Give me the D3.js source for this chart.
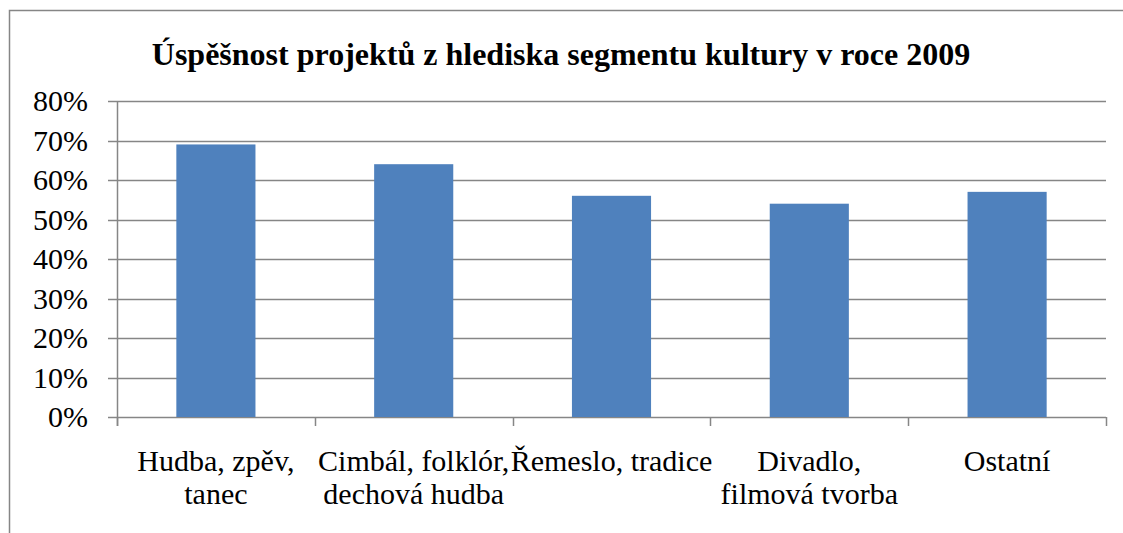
<!DOCTYPE html>
<html>
<head>
<meta charset="utf-8">
<script src="https://cdn.jsdelivr.net/npm/d3@7"></script>
<style>
  html, body { margin: 0; padding: 0; background: #fff; }
  svg { display: block; }
</style>
</head>
<body>
<svg id="chart" width="1123" height="533"></svg>
<script>
// ── DATA ─────────────────────────────────────────────────────────────────────
const categories = [
  ['Hudba, zpěv,', 'tanec'],
  ['Cimbál, folklór,', 'dechová hudba'],
  ['Řemeslo, tradice'],
  ['Divadlo,', 'filmová tvorba'],
  ['Ostatní']
];
const values = [0.69, 0.64, 0.56, 0.54, 0.57];
const yTicks = [0, 0.1, 0.2, 0.3, 0.4, 0.5, 0.6, 0.7, 0.8];
const title = 'Úspěšnost projektů z hlediska segmentu kultury v roce 2009';

// ── SETUP ────────────────────────────────────────────────────────────────────
const svg = d3.select('#chart');
const FONT = 'Liberation Serif';
const GRID = '#868686';
const BAR = '#4f81bd';
const M = { left: 117, right: 1106, top: 101, bottom: 417 };

// chart frame (cropped on right/bottom)
svg.append('path')
  .attr('d', 'M9.5,533 V10.5 H1123')
  .attr('fill', 'none').attr('stroke', GRID).attr('stroke-width', 1.5);

const x = d3.scaleBand().domain(d3.range(values.length)).range([M.left, M.right]).paddingInner(0.6).paddingOuter(0.3);
const xCat = d3.scaleBand().domain(d3.range(values.length)).range([M.left, M.right]);
const y = d3.scaleLinear().domain([0, 0.8]).range([M.bottom, M.top]);

// gridlines
svg.append('g').selectAll('line').data(yTicks).join('line')
  .attr('x1', M.left - 9).attr('x2', M.right)
  .attr('y1', d => Math.round(y(d)) + 0.5).attr('y2', d => Math.round(y(d)) + 0.5)
  .attr('stroke', GRID).attr('stroke-width', 1.5);

// bars
svg.append('g').selectAll('rect').data(values).join('rect')
  .attr('x', (d, i) => x(i)).attr('width', x.bandwidth())
  .attr('y', d => y(d)).attr('height', d => y(0) - y(d))
  .attr('fill', BAR);

// axes lines
svg.append('line').attr('x1', M.left + 0.5).attr('x2', M.left + 0.5).attr('y1', M.top).attr('y2', M.bottom + 9)
  .attr('stroke', GRID).attr('stroke-width', 1.5);
svg.append('g').selectAll('line').data(d3.range(values.length + 1)).join('line')
  .attr('x1', i => Math.round(M.left + i * xCat.bandwidth()) + 0.5)
  .attr('x2', i => Math.round(M.left + i * xCat.bandwidth()) + 0.5)
  .attr('y1', M.bottom).attr('y2', M.bottom + 9)
  .attr('stroke', GRID).attr('stroke-width', 1.5);

// title
svg.append('text')
  .attr('x', 561).attr('y', 65)
  .attr('font-family', FONT).attr('font-size', 32).attr('font-weight', 'bold')
  .attr('text-anchor', 'middle')
  .text(title);

// y labels
yTicks.forEach(d => {
  svg.append('text')
    .attr('x', 88).attr('y', y(d) + 10)
    .attr('font-family', FONT).attr('font-size', 30)
    .attr('text-anchor', 'end')
    .text(d3.format('.0%')(d));
});

// x labels, one text per line
categories.forEach((lines, i) => {
  lines.forEach((ln, j) => {
    svg.append('text')
      .attr('x', xCat(i) + xCat.bandwidth() / 2).attr('y', 471 + j * 33)
      .attr('font-family', FONT).attr('font-size', 30)
      .attr('text-anchor', 'middle')
      .text(ln);
  });
});
</script>
</body>
</html>
